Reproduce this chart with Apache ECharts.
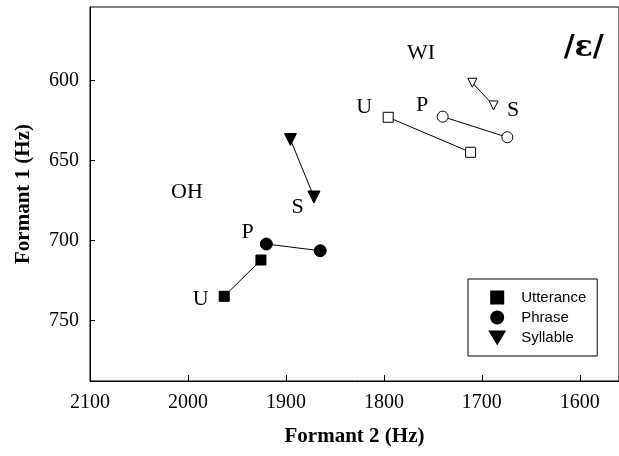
<!DOCTYPE html>
<html>
<head>
<meta charset="utf-8">
<script src="https://cdn.jsdelivr.net/npm/echarts@6/dist/echarts.min.js"></script>
<style>
    html, body { margin: 0; padding: 0; background: #fff; }
    #chart { width: 619px; height: 456px; }
</style>
</head>
<body>
<div id="chart"></div>
<script>
// F2 / F1 values (Hz), two points per condition
var ohUtterance = [[1963, 735], [1925.5, 712.3]];
var ohPhrase = [[1920, 702.3], [1865, 706.5]];
var ohSyllable = [[1895.4, 636.9], [1871.4, 672.9]];
var wiUtterance = [[1795.6, 623], [1711.5, 644.9]];
var wiPhrase = [[1740, 622.6], [1674, 635.5]];
var wiSyllable = [[1709.7, 601.4], [1688, 615.6]];

var xTicks = [1600, 1700, 1800, 1900, 2000, 2100];
var yTicks = [600, 650, 700, 750];

// text labels placed in data space
var notes = [
    ['OH', 2001, 669.8],
    ['U', 1987, 736.9],
    ['P', 1939, 695.2],
    ['S', 1888, 679],
    ['WI', 1762, 583],
    ['U', 1820, 616.9],
    ['P', 1761, 615.3],
    ['S', 1668, 618.5]
];
var vowel = ['/ɛ/', 1596, 579.7];

var serif = "'Liberation Serif', 'Times New Roman', serif";

function pairSeries(name, data, symbol, size, filled) {
    return {
        name: name,
        type: 'line',
        data: data,
        symbol: symbol,
        symbolSize: size,
        symbolRotate: symbol === 'triangle' ? 180 : 0,
        showAllSymbol: true,
        lineStyle: { color: '#000', width: 1 },
        itemStyle: {
            color: filled ? '#000' : '#fff',
            borderColor: '#000',
            borderWidth: 1
        },
        emphasis: { disabled: true },
        z: 3
    };
}

function textSeries(data, font, size, weight) {
    return {
        type: 'scatter',
        data: data,
        symbolSize: 0,
        silent: true,
        itemStyle: { opacity: 1 },
        label: {
            show: true,
            position: 'inside',
            formatter: '{b}',
            fontFamily: font,
            fontWeight: weight,
            fontSize: size,
            color: '#000',
            textBorderWidth: 0
        }
    };
}

var noteData = notes.map(function (n) {
    return { name: n[0], value: [n[1], n[2]] };
});

var myChart = echarts.init(document.getElementById('chart'));
var option = {
    animation: false,
    grid: {
        left: 90,
        right: -1,
        top: 7,
        bottom: 75,
        show: true,
        borderColor: '#000',
        borderWidth: 1
    },
    xAxis: {
        type: 'value',
        inverse: true,
        min: 1560,
        max: 2100,
        name: 'Formant 2 (Hz)',
        nameLocation: 'middle',
        nameGap: 45,
        nameTextStyle: { fontFamily: serif, fontWeight: 'bold', fontSize: 21, color: '#000' },
        axisLine: { lineStyle: { color: '#000', width: 1 } },
        axisTick: { inside: true, length: 6, customValues: xTicks, lineStyle: { color: '#000' } },
        axisLabel: {
            customValues: xTicks, margin: 12, fontFamily: serif, fontSize: 20, color: '#000',
            formatter: function (v) { return String(v); }
        },
        splitLine: { show: false }
    },
    yAxis: {
        type: 'value',
        inverse: true,
        min: 554,
        max: 788,
        name: 'Formant 1 (Hz)',
        nameLocation: 'middle',
        nameRotate: 90,
        nameGap: 56,
        nameTextStyle: { fontFamily: serif, fontWeight: 'bold', fontSize: 21, color: '#000' },
        axisLine: { lineStyle: { color: '#000', width: 1 } },
        axisTick: { inside: true, length: 5, customValues: yTicks, lineStyle: { color: '#000' } },
        axisLabel: {
            customValues: yTicks, margin: 11, fontFamily: serif, fontSize: 20, color: '#000',
            formatter: function (v) { return String(v); }
        },
        splitLine: { show: false }
    },
    legend: {
        left: 468,
        top: 279,
        orient: 'vertical',
        selectedMode: false,
        borderColor: '#000',
        borderWidth: 1,
        padding: [11, 11, 11, 21],
        itemWidth: 38,
        itemHeight: 12,
        itemGap: 5,
        textStyle: { fontFamily: 'Liberation Sans, Arial, sans-serif', fontSize: 15, color: '#000' },
        data: [
            { name: 'Utterance', icon: 'path://M0,0L10,0L10,10L0,10Z' },
            { name: 'Phrase', icon: 'circle' },
            { name: 'Syllable', icon: 'path://M0,0L12,0L6,10Z' }
        ]
    },
    series: [
        pairSeries('Utterance', ohUtterance, 'rect', 10, true),
        pairSeries('Phrase', ohPhrase, 'circle', 12, true),
        pairSeries('Syllable', ohSyllable, 'triangle', 12, true),
        pairSeries('Utterance', wiUtterance, 'rect', 10, false),
        pairSeries('Phrase', wiPhrase, 'circle', 11, false),
        pairSeries('Syllable', wiSyllable, 'triangle', 9, false),
        textSeries(noteData, serif, 22, 'normal'),
        textSeries([{ name: vowel[0], value: [vowel[1], vowel[2]] }],
            "'DejaVu Serif', 'Noto Serif', serif", 30, 'bold')
    ]
};
myChart.setOption(option);
</script>
</body>
</html>
